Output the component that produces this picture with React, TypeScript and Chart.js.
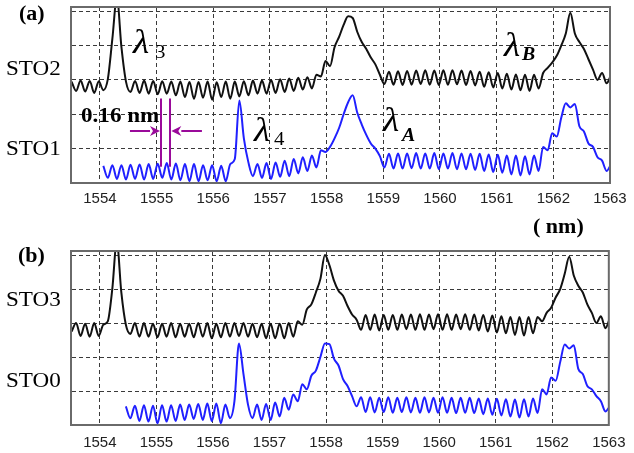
import React, { useEffect, useRef } from "react";
import { Chart, registerables } from "chart.js";

Chart.register(...registerables);

// ---------------- data ----------------
const wavelengths = [
  1553.50, 1553.58, 1553.66, 1553.74, 1553.82, 1553.90, 1553.98, 1554.06, 1554.14, 1554.22,
  1554.30, 1554.38, 1554.46, 1554.54, 1554.62, 1554.70, 1554.78, 1554.86, 1554.94, 1555.02,
  1555.10, 1555.18, 1555.26, 1555.34, 1555.42, 1555.50, 1555.58, 1555.66, 1555.74, 1555.82,
  1555.90, 1555.98, 1556.06, 1556.14, 1556.22, 1556.30, 1556.38, 1556.46, 1556.54, 1556.62,
  1556.70, 1556.78, 1556.86, 1556.94, 1557.02, 1557.10, 1557.18, 1557.26, 1557.34, 1557.42,
  1557.50, 1557.58, 1557.66, 1557.74, 1557.82, 1557.90, 1557.98, 1558.06, 1558.14, 1558.22,
  1558.30, 1558.38, 1558.46, 1558.54, 1558.62, 1558.70, 1558.78, 1558.86, 1558.94, 1559.02,
  1559.10, 1559.18, 1559.26, 1559.34, 1559.42, 1559.50, 1559.58, 1559.66, 1559.74, 1559.82,
  1559.90, 1559.98, 1560.06, 1560.14, 1560.22, 1560.30, 1560.38, 1560.46, 1560.54, 1560.62,
  1560.70, 1560.78, 1560.86, 1560.94, 1561.02, 1561.10, 1561.18, 1561.26, 1561.34, 1561.42,
  1561.50, 1561.58, 1561.66, 1561.74, 1561.82, 1561.90, 1561.98, 1562.06, 1562.14, 1562.22,
  1562.30, 1562.38, 1562.46, 1562.54, 1562.62, 1562.70, 1562.78, 1562.86, 1562.94, 1563.02,
];

// panel (a) upper trace
const sto2 = [
  2.95, 2.68, 2.98, 2.66, 2.97, 2.62, 2.96, 2.70, 3.02, 4.20,
  5.40, 3.95, 2.95, 2.65, 2.97, 2.62, 2.98, 2.60, 2.97, 2.58,
  2.96, 2.60, 2.95, 2.55, 2.95, 2.50, 2.94, 2.45, 2.94, 2.48,
  2.95, 2.42, 2.93, 2.50, 2.95, 2.45, 2.95, 2.52, 2.96, 2.55,
  2.98, 2.60, 2.98, 2.60, 3.00, 2.62, 3.02, 2.65, 3.04, 2.68,
  3.06, 2.72, 3.08, 2.75, 3.15, 3.10, 3.55, 3.40, 3.95, 4.25,
  4.60, 4.85, 4.80, 4.40, 4.10, 3.90, 3.65, 3.45, 3.15, 2.88,
  3.24, 2.86, 3.25, 2.85, 3.26, 2.86, 3.27, 2.88, 3.28, 2.86,
  3.27, 2.85, 3.28, 2.86, 3.28, 2.87, 3.27, 2.85, 3.26, 2.84,
  3.24, 2.80, 3.22, 2.78, 3.20, 2.75, 3.18, 2.72, 3.16, 2.70,
  3.15, 2.68, 3.15, 2.75, 3.20, 3.35, 3.50, 3.70, 4.00, 4.35,
  4.95, 4.35, 4.10, 3.90, 3.60, 3.30, 3.00, 3.20, 2.90, 3.15,
];

// panel (a) lower trace
const sto1 = [
  null, null, null, null, null, null, null, 0.50, 0.15, 0.52,
  0.12, 0.52, 0.10, 0.53, 0.12, 0.54, 0.10, 0.55, 0.12, 0.56,
  0.15, 0.58, 0.10, 0.57, 0.08, 0.55, 0.05, 0.55, 0.05, 0.52,
  0.08, 0.52, 0.05, 0.50, 0.05, 0.55, 0.70, 2.40, 1.30, 0.60,
  0.20, 0.55, 0.15, 0.58, 0.12, 0.60, 0.18, 0.65, 0.20, 0.70,
  0.28, 0.75, 0.35, 0.80, 0.45, 0.95, 0.90, 1.05, 1.30, 1.60,
  2.00, 2.35, 2.55, 2.05, 1.70, 1.40, 1.15, 1.00, 0.78, 0.45,
  0.85, 0.42, 0.86, 0.42, 0.86, 0.43, 0.87, 0.42, 0.86, 0.42,
  0.87, 0.40, 0.86, 0.42, 0.87, 0.40, 0.86, 0.40, 0.85, 0.38,
  0.85, 0.35, 0.83, 0.32, 0.82, 0.30, 0.80, 0.25, 0.80, 0.22,
  0.78, 0.25, 0.80, 0.35, 1.05, 0.95, 1.45, 1.35, 1.90, 2.32,
  2.20, 2.30, 1.65, 1.50, 1.15, 1.05, 0.75, 0.65, 0.35, 0.55,
];

// panel (b) upper trace
const sto3 = [
  2.75, 3.00, 2.62, 2.98, 2.60, 3.00, 2.62, 2.95, 3.05, 4.00,
  5.40, 3.90, 2.95, 2.68, 3.00, 2.60, 3.00, 2.60, 2.98, 2.58,
  2.98, 2.60, 3.00, 2.58, 2.98, 2.60, 2.98, 2.58, 3.00, 2.60,
  3.00, 2.55, 2.98, 2.58, 3.00, 2.60, 3.00, 2.62, 3.00, 2.60,
  2.98, 2.58, 2.98, 2.55, 2.98, 2.55, 2.98, 2.55, 3.00, 2.60,
  3.05, 2.95, 3.40, 3.55, 3.90, 4.30, 5.00, 4.70, 4.25, 3.95,
  3.80, 3.50, 3.25, 3.10, 2.80, 3.24, 2.80, 3.25, 2.78, 3.24,
  2.80, 3.24, 2.80, 3.25, 2.82, 3.25, 2.80, 3.26, 2.80, 3.25,
  2.82, 3.26, 2.80, 3.26, 2.80, 3.25, 2.82, 3.26, 2.80, 3.25,
  2.78, 3.24, 2.75, 3.22, 2.72, 3.20, 2.70, 3.18, 2.65, 3.18,
  2.63, 3.18, 2.70, 3.18, 3.05, 3.30, 3.45, 3.75, 4.00, 4.45,
  4.95, 4.40, 4.10, 3.90, 3.55, 3.30, 3.00, 3.20, 2.85, 3.15,
];

// panel (b) lower trace
const sto0 = [
  null, null, null, null, null, null, null, null, null, null,
  null, null, 0.55, 0.20, 0.57, 0.12, 0.58, 0.10, 0.57, 0.05,
  0.58, 0.10, 0.58, 0.12, 0.60, 0.15, 0.60, 0.18, 0.62, 0.15,
  0.63, 0.12, 0.63, 0.05, 0.60, 0.20, 0.70, 2.40, 1.50, 0.60,
  0.20, 0.60, 0.15, 0.62, 0.15, 0.66, 0.25, 0.80, 0.45, 0.90,
  0.70, 1.20, 1.05, 1.45, 1.60, 2.00, 2.40, 2.38, 1.95, 1.75,
  1.35, 1.15, 0.85, 0.55, 0.82, 0.38, 0.82, 0.37, 0.80, 0.38,
  0.82, 0.36, 0.80, 0.38, 0.82, 0.37, 0.80, 0.36, 0.82, 0.37,
  0.80, 0.36, 0.82, 0.36, 0.80, 0.35, 0.80, 0.36, 0.80, 0.35,
  0.78, 0.32, 0.78, 0.30, 0.77, 0.28, 0.76, 0.25, 0.75, 0.22,
  0.76, 0.25, 0.78, 0.35, 1.05, 0.90, 1.40, 1.30, 1.85, 2.37,
  2.25, 2.35, 1.65, 1.50, 1.15, 1.05, 0.85, 0.70, 0.40, 0.55,
];

const xTickLabels = [1554, 1555, 1556, 1557, 1558, 1559, 1560, 1561, 1562, 1563];

// 0.16 nm spacing marker (panel a)
const markerLinesX = [1555.08, 1555.24];
const markerLineY = [0.47, 2.46];
const arrowFromX = [1554.53, 1555.80];
const arrowToX = [1555.06, 1555.26];
const arrowY = 1.51;

// ---------------- styling ----------------
const X_MIN = 1553.49;
const X_MAX = 1563.0;
const Y_MAX = 5.12;
const BLACK = "#111111";
const BLUE = "#2020ff";
const PURPLE = "#9a0a9a";
const FRAME = "#6a6a6a";
const GRID = "#3a3a3a";
const SERIF = '"Liberation Serif", "Times New Roman", serif';

const framePlugin = {
  id: "frame",
  afterDraw(chart: any) {
    const { ctx, chartArea: a } = chart;
    ctx.save();
    ctx.strokeStyle = FRAME;
    ctx.lineWidth = 2;
    ctx.strokeRect(a.left, a.top, a.right - a.left, a.bottom - a.top);
    ctx.restore();
  },
};

const markerPlugin = {
  id: "marker",
  afterDatasetsDraw(chart: any) {
    const { ctx } = chart;
    const x = chart.scales.x;
    const y = chart.scales.y;
    ctx.save();
    ctx.strokeStyle = PURPLE;
    ctx.fillStyle = PURPLE;
    ctx.lineWidth = 2;
    markerLinesX.forEach((v) => {
      const px = Math.round(x.getPixelForValue(v));
      ctx.beginPath();
      ctx.moveTo(px, y.getPixelForValue(markerLineY[1]));
      ctx.lineTo(px, y.getPixelForValue(markerLineY[0]));
      ctx.stroke();
    });
    const py = Math.round(y.getPixelForValue(arrowY));
    arrowFromX.forEach((fx, i) => {
      const sx = x.getPixelForValue(fx);
      const ex = x.getPixelForValue(arrowToX[i]);
      const dir = ex > sx ? 1 : -1;
      const head = 10;
      ctx.beginPath();
      ctx.moveTo(sx, py);
      ctx.lineTo(ex - dir * head, py);
      ctx.stroke();
      ctx.beginPath();
      ctx.moveTo(ex, py);
      ctx.lineTo(ex - dir * head, py - 5);
      ctx.lineTo(ex - dir * (head - 3), py);
      ctx.lineTo(ex - dir * head, py + 5);
      ctx.closePath();
      ctx.fill();
    });
    ctx.restore();
  },
};

function makeConfig(
  upper: (number | null)[],
  lower: (number | null)[],
  padding: any,
  xHeight: number,
  tickPad: number,
  extra: any[]
): any {
  const toPts = (arr: (number | null)[]) =>
    wavelengths.map((w, i) => ({ x: w, y: arr[i] }));
  return {
    type: "line",
    data: {
      datasets: [
        {
          data: toPts(upper),
          borderColor: BLACK,
          borderWidth: 2,
          pointRadius: 0,
          cubicInterpolationMode: "monotone",
          spanGaps: false,
        },
        {
          data: toPts(lower),
          borderColor: BLUE,
          borderWidth: 2,
          pointRadius: 0,
          cubicInterpolationMode: "monotone",
          spanGaps: false,
        },
      ],
    },
    options: {
      responsive: false,
      animation: false,
      events: [],
      layout: { padding },
      plugins: { legend: { display: false }, tooltip: { enabled: false } },
      scales: {
        x: {
          type: "linear",
          min: X_MIN,
          max: X_MAX,
          afterFit: (s: any) => {
            s.height = xHeight;
          },
          afterBuildTicks: (s: any) => {
            s.ticks = xTickLabels.map((v) => ({ value: v }));
          },
          ticks: {
            stepSize: 1,
            includeBounds: false,
            padding: tickPad,
            maxRotation: 0,
            autoSkip: false,
            color: "#222222",
            font: { family: '"Liberation Sans", Arial, sans-serif', size: 15 },
            callback: (v: any) => String(v),
          },
          grid: { color: GRID, lineWidth: 1, drawTicks: false, borderDash: [4, 3] },
          border: { display: true, color: FRAME, width: 2, dash: [4, 3] },
        },
        y: {
          type: "linear",
          min: 0,
          max: Y_MAX,
          afterFit: (s: any) => {
            s.width = 0;
          },
          ticks: { display: false, stepSize: 1, includeBounds: false },
          grid: { color: GRID, lineWidth: 1, drawTicks: false, borderDash: [4, 3] },
          border: { display: true, color: FRAME, width: 2, dash: [4, 3] },
        },
      },
    },
    plugins: [framePlugin, ...extra],
  };
}

function Txt(props: {
  x: number;
  base: number;
  size: number;
  bold?: boolean;
  italic?: boolean;
  children: React.ReactNode;
}) {
  const { x, base, size, bold, italic, children } = props;
  return (
    <span
      style={{
        position: "absolute",
        left: x,
        top: base - 0.8375 * size,
        fontSize: size,
        lineHeight: `${size}px`,
        fontFamily: SERIF,
        fontWeight: bold ? "bold" : "normal",
        fontStyle: italic ? "italic" : "normal",
        whiteSpace: "nowrap",
        color: "#000",
        transform: "scaleX(1.1)",
        transformOrigin: "left center",
      }}
    >
      {children}
    </span>
  );
}

export default function App() {
  const refA = useRef<HTMLCanvasElement>(null);
  const refB = useRef<HTMLCanvasElement>(null);

  useEffect(() => {
    const a = new Chart(
      refA.current as HTMLCanvasElement,
      makeConfig(sto2, sto1, { left: 71, right: 24, top: 7, bottom: 2 }, 30, 7, [markerPlugin])
    );
    const b = new Chart(
      refB.current as HTMLCanvasElement,
      makeConfig(sto3, sto0, { left: 71, right: 24, top: 15, bottom: 0 }, 28, 8.5, [])
    );
    return () => {
      a.destroy();
      b.destroy();
    };
  }, []);

  return (
    <div
      style={{
        position: "absolute",
        left: 0,
        top: 0,
        width: 634,
        height: 453,
        background: "#fff",
        overflow: "hidden",
      }}
    >
      <canvas
        ref={refA}
        width={634}
        height={215}
        style={{ position: "absolute", left: 0, top: 0, width: 634, height: 215, display: "block" }}
      />
      <canvas
        ref={refB}
        width={634}
        height={217}
        style={{ position: "absolute", left: 0, top: 236, width: 634, height: 217, display: "block" }}
      />

      <Txt x={19} base={20} size={20} bold>(a)</Txt>
      <Txt x={6} base={76} size={21}>STO2</Txt>
      <Txt x={6} base={156} size={21}>STO1</Txt>

      <Txt x={18} base={262} size={20} bold>(b)</Txt>
      <Txt x={6} base={307} size={21}>STO3</Txt>
      <Txt x={6} base={388} size={21}>STO0</Txt>

      <Txt x={533} base={233} size={20} bold>( nm)</Txt>
      <Txt x={81} base={123} size={21} bold>0.16 nm</Txt>

      <Txt x={133} base={53} size={34} italic>λ</Txt>
      <Txt x={155} base={58} size={19}>3</Txt>

      <Txt x={254} base={141} size={34} italic>λ</Txt>
      <Txt x={274} base={145} size={19}>4</Txt>

      <Txt x={383} base={131} size={34} italic>λ</Txt>
      <Txt x={402} base={141} size={18} bold italic>A</Txt>

      <Txt x={504} base={56} size={34} italic>λ</Txt>
      <Txt x={522} base={60} size={18} bold italic>B</Txt>
    </div>
  );
}
